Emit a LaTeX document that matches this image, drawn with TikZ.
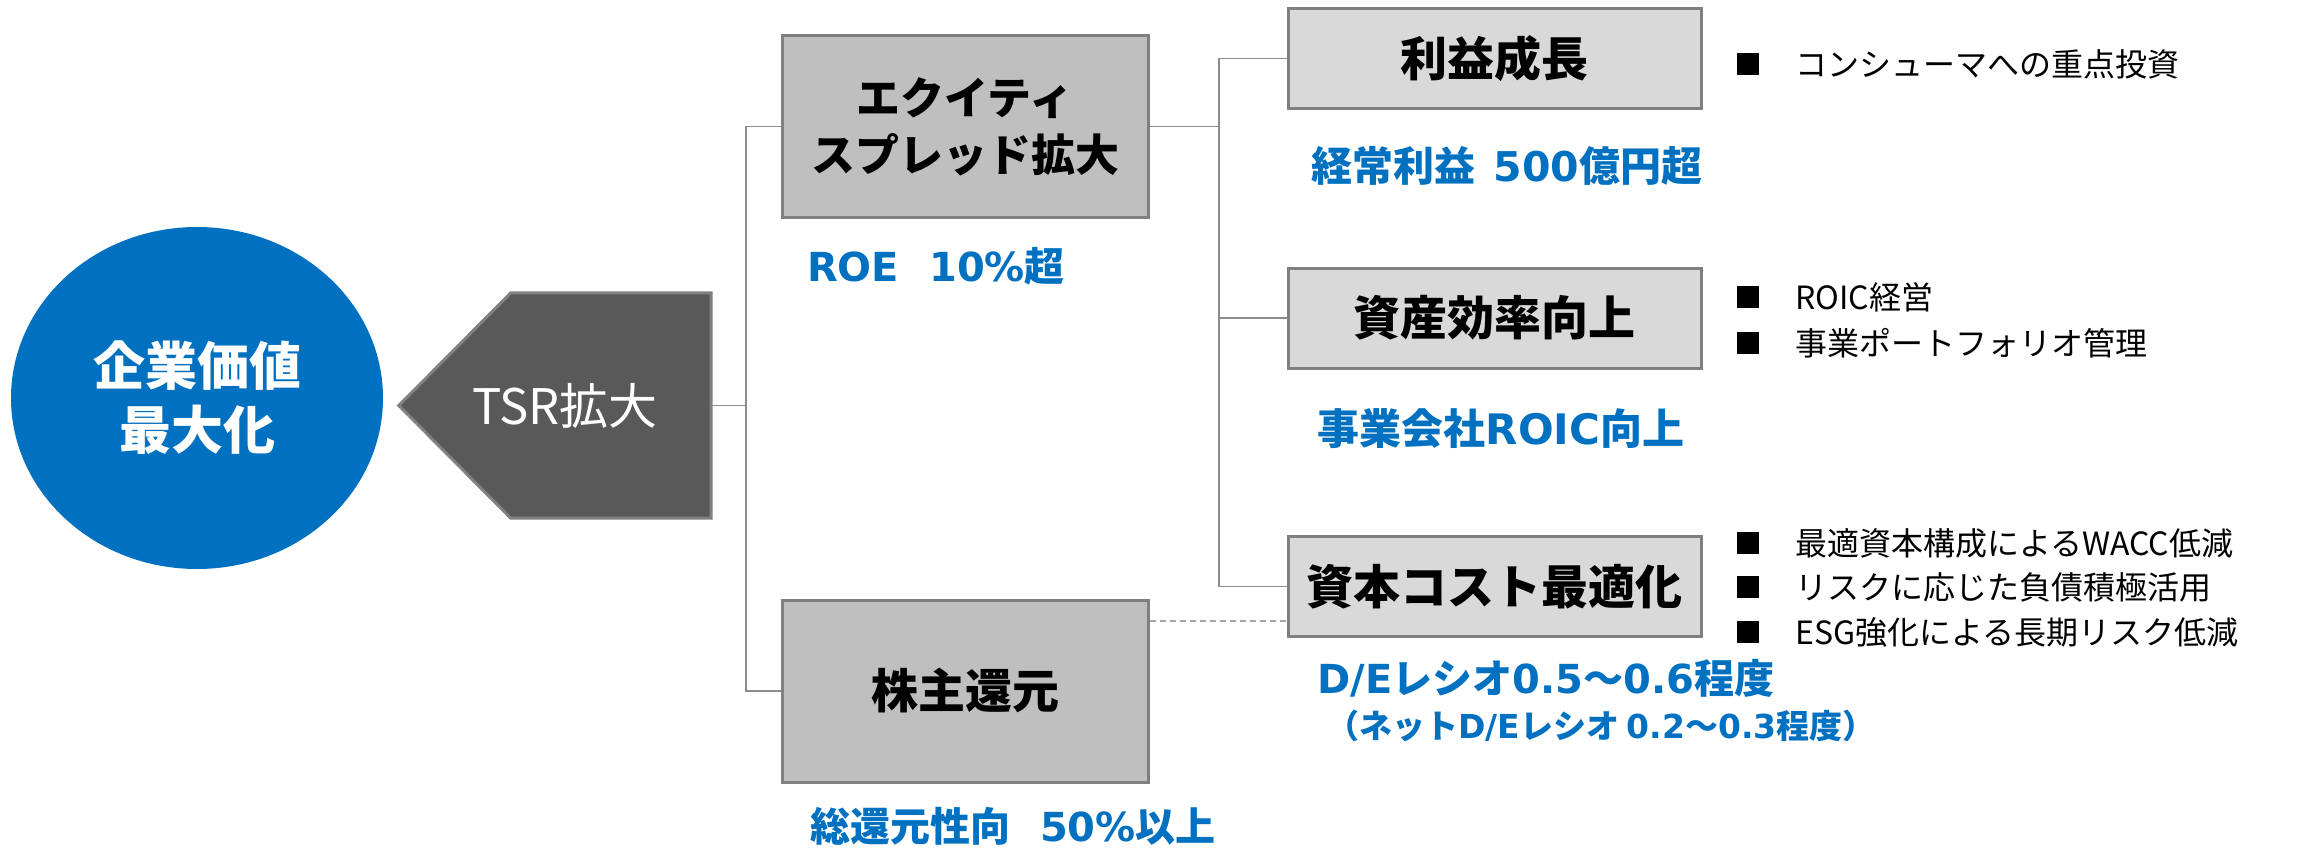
\documentclass[tikz,border=0pt]{standalone}
\usepackage{fontspec}
\setmainfont{Noto Sans CJK JP}
\newfontfamily\vl{DejaVu Sans}
\usetikzlibrary{shapes.geometric,calc}
\definecolor{blueA}{HTML}{0070C0}
\definecolor{boxdark}{HTML}{BFBFBF}
\definecolor{boxlight}{HTML}{D9D9D9}
\definecolor{bordergray}{HTML}{808080}
\definecolor{pentgray}{HTML}{595959}
\definecolor{conngray}{HTML}{8C8C8C}
\definecolor{dashgray}{HTML}{A6A6A6}
\newcommand{\fs}[2]{\fontsize{#1}{#2}\selectfont}
\newcommand{\bsq}{\rule[1.2pt]{22pt}{22pt}\hspace{36pt}}
\tikzset{
  bigbox/.style={draw=bordergray, line width=3pt, fill=boxdark, inner sep=0pt,
    minimum width=366pt, minimum height=182pt, align=center, font=\bfseries},
  smallbox/.style={draw=bordergray, line width=3pt, fill=boxlight, inner sep=0pt,
    minimum width=413pt, minimum height=100pt, align=center, font=\bfseries\fs{47}{56}},
  conn/.style={draw=conngray, line width=1.5pt},
  dashconn/.style={draw=dashgray, line width=1.5pt, dash pattern=on 6pt off 4pt},
  bluetxt/.style={text=blueA, inner sep=0pt, font=\bfseries},
  bullettxt/.style={anchor=west, inner sep=0pt, font=\fs{32}{40}},
}
\begin{document}
\begin{tikzpicture}[x=1pt,y=-1pt]
\useasboundingbox (0,0) rectangle (2318,849);

% circle
\node[ellipse, fill=blueA, minimum width=372pt, minimum height=342pt, inner sep=0pt,
  text=white, align=center, font=\bfseries\fs{52}{64}] (goal) at (197,398) {企業価値\\最大化};

% pentagon TSR
\node[inner sep=0pt, minimum width=312pt, minimum height=225pt] (tsr) at (555,405.5) {};
\fill[pentgray] (tsr.west) -- ($(tsr.north west)+(112,0)$) -- (tsr.north east)
  -- (tsr.south east) -- ($(tsr.south west)+(112,0)$) -- cycle;
\draw[bordergray, line width=3pt, line join=miter] (tsr.west) -- ($(tsr.north west)+(112,0)$) -- (tsr.north east)
  -- (tsr.south east) -- ($(tsr.south west)+(112,0)$) -- cycle;
\node[inner sep=0pt, text=white, font=\fs{49}{52}] (tsrlabel) at (tsr.center) {\hspace*{20pt}TSR拡大};

% boxes
\node[bigbox, font=\bfseries\fs{44}{57}] (eq) at (965,126.5) {エクイティ\\スプレッド拡大};
\node[bigbox, font=\bfseries\fs{47}{56}] (sh) at (965,691) {株主還元};
\node[smallbox] (p1) at (1494.5,58.5) {利益成長};
\node[smallbox] (p2) at (1494.5,318) {資産効率向上};
\node[smallbox] (p3) at (1494.5,586.5) {資本コスト最適化};

% connectors
\coordinate (va) at (746,0);
\coordinate (vb) at (1219,0);
\draw[conn] (tsr.east) -- (tsr.east -| va);
\draw[conn] (eq.west) -- (eq.west -| va) |- (sh.west);
\draw[conn] (eq.east) -- (eq.east -| vb);
\draw[conn] (p1.west) -- (p1.west -| vb) |- (p3.west);
\draw[conn] (p2.west) -- (p2.west -| vb);
\draw[dashconn] (sh.east |- 0,621) -- (p3.west |- 0,621);

% blue targets
\node[bluetxt, font=\bfseries\fs{40}{46}] (roe) at (936,266) {{\vl ROE}\hspace{30pt}{\vl 10\%}超};
\node[bluetxt, font=\bfseries\fs{41}{46}] (keijo) at (1507,166) {経常利益\hspace{18pt}{\vl 500}億円超};
\node[bluetxt, font=\bfseries\fs{42}{46}] (roic) at (1501,429) {事業会社{\vl ROIC}向上};
\node[bluetxt, font=\bfseries\fs{40}{46}] (de) at (1546,678) {{\vl D/E}レシオ{\vl 0.5}～{\vl 0.6}程度};
\node[bluetxt, font=\bfseries\fs{33}{40}] (net) at (1601,726) {（ネット{\vl D/E}レシオ {\vl 0.2}～{\vl 0.3}程度）};
\node[bluetxt, font=\bfseries\fs{40}{46}] (sokan) at (1013,826) {総還元性向\hspace{30pt}{\vl 50\%}以上};

% bullets
\node[bullettxt] (b1) at (1737,64) {\bsq コンシューマへの重点投資};
\node[bullettxt] (b2) at (1737,297) {\bsq ROIC経営};
\node[bullettxt] (b3) at (1737,343) {\bsq 事業ポートフォリオ管理};
\node[bullettxt] (b4) at (1737,543) {\bsq 最適資本構成によるWACC低減};
\node[bullettxt] (b5) at (1737,587) {\bsq リスクに応じた負債積極活用};
\node[bullettxt] (b6) at (1737,632) {\bsq ESG強化による長期リスク低減};
\end{tikzpicture}
\end{document}
